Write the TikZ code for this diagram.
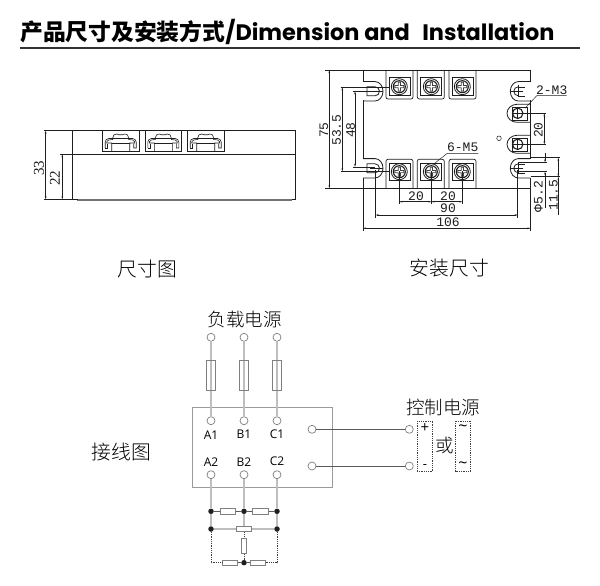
\documentclass[tikz,border=0pt]{standalone}
\usepackage{fontspec}
\usetikzlibrary{arrows.meta}
\setmainfont{Liberation Mono}
\newfontfamily\dimserif{Liberation Serif}
\newfontfamily\cjk{Noto Sans CJK SC}
\newfontfamily\cjklight{Noto Sans CJK SC Light}
\newfontfamily\titlelat{Poppins}
\newfontfamily\lab{Open Sans}
\definecolor{wire}{HTML}{BEBEBE}
\definecolor{ink}{HTML}{1E1E1E}
\definecolor{boxg}{HTML}{808080}
\tikzset{
  dimtxt/.style={font=\fontsize{13}{13}\selectfont,text=ink,inner sep=0pt},
  dimrot/.style={dimtxt,rotate=90},
  dimbig/.style={font=\dimserif\fontsize{15}{15}\selectfont,text=ink,inner sep=0pt,rotate=90},
  dimline/.style={ink,line width=0.45pt,{Stealth[length=3pt,width=1.6pt]}-{Stealth[length=3pt,width=1.6pt]}},
  ext/.style={ink,line width=0.45pt},
  body/.style={ink,line width=0.8pt},
  captxt/.style={font=\cjklight\fontsize{18.5}{18.5}\selectfont,text=black,inner sep=0pt},
  capbig/.style={font=\cjklight\fontsize{19.8}{19.8}\selectfont,text=black,inner sep=0pt},
  pinlab/.style={font=\lab\fontsize{12}{12}\selectfont,text=black,inner sep=0pt},
  term/.style={circle,draw=boxg,fill=white,line width=0.7pt,minimum size=8pt,inner sep=0pt},
  fuse/.style={rectangle,draw=boxg,line width=0.7pt,minimum width=9pt,minimum height=30pt,inner sep=0pt},
  resh/.style={rectangle,draw=boxg,fill=white,line width=0.9pt,minimum width=15.5pt,minimum height=5.5pt,inner sep=0pt},
  resv/.style={rectangle,draw=boxg,fill=white,line width=0.9pt,minimum width=5.5pt,minimum height=15.5pt,inner sep=0pt},
  dotn/.style={circle,fill=ink,minimum size=5.5pt,inner sep=0pt},
  wireg/.style={wire,line width=1.6pt},
  thin wire/.style={boxg!70!black,line width=0.8pt},
  dotw/.style={black!75,line width=0.8pt,densely dotted},
  screw/.pic={
    \draw[ink,line width=0.8pt] (0,0) circle (8pt);
    \draw[ink,line width=1.1pt] (0,0) circle (6pt);
    \fill[ink!85] (-5,-1.5) rectangle (5,1.5) (-1.5,-5) rectangle (1.5,5);
    \fill[white] (-4,-0.6) rectangle (4,0.6) (-0.6,-4) rectangle (0.6,4);
  },
  clip shape/.pic={
    \draw[ink,line width=0.6pt] (-9,10) -- (-9,2) -- (-14,2) .. controls (-14,1) and (-14,0) .. (-12,-1) -- (-8,-1.5) -- (-8,-3) .. controls (-8,-6) and (-6,-7) .. (-4,-7) -- (-2,-6.3) -- (2,-6.3) -- (4,-7) .. controls (6,-7) and (8,-6) .. (8,-3) -- (8,-1.5) -- (12,-1) .. controls (14,0) and (14,1) .. (14,2) -- (9,2) -- (9,10);
    \draw[ink,line width=0.6pt] (-15.5,7) -- (-15.5,1) .. controls (-15.5,-1) and (-14,-2) .. (-12,-2.5) -- (12,-2.5) .. controls (14,-2) and (15.5,-1) .. (15.5,1) -- (15.5,7) -- (13,7) -- (13,2.5);
    \draw[ink,line width=0.6pt] (-15.5,7) -- (-13,7) -- (-13,2.5);
    \draw[ink,line width=0.6pt] (-9,2.5) -- (9,2.5);
  },
  slotl/.pic={
    \draw[body] (-12,-9.7) -- (0,-9.7) arc[start angle=90,end angle=-90,x radius=8pt,y radius=9.7pt] -- (-12,9.7);
    \draw[body] (-8,-4.5) -- (0,-4.5) arc[start angle=90,end angle=-90,radius=4.5pt] -- (-8,4.5) -- cycle;
    \draw[ext] (-5,0) -- (8,0);
  },
  slotr/.pic={
    \draw[body] (12,-9.7) -- (0,-9.7) arc[start angle=90,end angle=270,x radius=8pt,y radius=9.7pt] -- (12,9.7);
    \draw[body] (0,-4.5) arc[start angle=90,end angle=270,radius=4.5pt];
    \draw[ext] (0,-4.5) -- (7,-4.5) (0,4.5) -- (7,4.5);
    \draw[ext] (5,0) -- (-8,0) (0,-6) -- (0,6);
  },
}
\begin{document}
\begin{tikzpicture}[x=1pt,y=-1pt]
\useasboundingbox (0,0) rectangle (600,586);
\fill[white] (0,0) rectangle (600,586);

% title
\node[anchor=west,inner sep=0pt,font=\cjk\bfseries\fontsize{22.8}{22.8}\selectfont] (title) at (20,32) {产品尺寸及安装方式{\titlelat\bfseries\fontsize{22.4}{22.4}\selectfont/Dimension and\hspace{0.35em} Installation}};
\draw[black!80,line width=2pt] (20,48.5) -- (580,48.5);

% side view
\draw[body] (72.7,130.7) rectangle (295.7,199.3);
\draw[body] (72.7,154.3) -- (295.7,154.3);
\fill[black!55] (77,198.6) rectangle (291.7,200.8);
\foreach \a/\b/\c in {102.3/139.3/120.7,145/181.7/163.3,187/224/205.7}{
  \draw[body] (\a,130.7) -- (\a,151) -- (\b,151) -- (\b,130.7);
  \pic at (\c,141) {clip shape};
}
\draw[ext] (44,130.7) -- (72.7,130.7) (44,199.3) -- (78,199.3) (60,154.3) -- (72.7,154.3);
\draw[dimline] (45.7,130.7) -- (45.7,199.3);
\draw[dimline] (62.3,154.3) -- (62.3,199.3);
\node[dimbig] (d33) at (39,168) {33};
\node[dimbig] (d22) at (55,178) {22};

% top view outline
\draw[body] (363,81.7) -- (363,70) -- (530.5,70) -- (530.5,81.7);
\draw[body] (363,100) -- (363,158.7);
\draw[body] (363,178) -- (363,188.3);
\draw[body] (530.5,100) -- (530.5,158.7);
\draw[body] (530.5,178) -- (530.5,188.3);
\draw[ink,line width=1pt] (363,188.3) -- (530.5,188.3);
\pic at (375,91.3) {slotl};
\pic at (375,168.3) {slotl};
\pic at (518.3,91.3) {slotr};
\pic at (518.3,168.3) {slotr};
\foreach \a/\c in {386/399.3,417.3/431.3,449/462.3}{
  \draw[ink,line width=0.7pt,rounded corners=2pt] (\a,70) -- (\a,99) -- (\a+27,99) -- (\a+27,70);
  \draw[ink,line width=0.6pt] (\a+3,77.3) rectangle (\a+24,95.7);
  \pic at (\c,86.7) {screw};
  \draw[ink,line width=0.7pt,rounded corners=2pt] (\a,188.3) -- (\a,159.3) -- (\a+27,159.3) -- (\a+27,188.3);
  \draw[ink,line width=0.6pt] (\a+3,180) -- (\a+3,163.3) -- (\a+24,163.3) -- (\a+24,180) -- cycle;
  \pic at (\c,171.7) {screw};
}
% M3 terminals
\foreach \y in {113.3,144.3}{
  \draw[body] (530.5,\y-9) -- (517,\y-9) arc[start angle=90,end angle=270,x radius=10pt,y radius=9pt] -- (530.5,\y+9);
  \draw[ink,line width=0.6pt] (512,\y-6.5) rectangle (527,\y+6.5);
  \draw[ink,line width=1.1pt,fill=white] (517.7,\y) circle (5.2pt);
  \draw[ink,line width=1.2pt] (513,\y) -- (522.4,\y) (517.7,\y-4.7) -- (517.7,\y+4.7);
}
\draw[ink,line width=0.5pt] (499,138.3) circle (2.3pt);

% dimensions, top view
\draw[ext] (325,70) -- (363,70) (325,188.3) -- (363,188.3);
\draw[dimline] (329.3,70) -- (329.3,188.3);
\node[dimrot] (d75) at (324,130) {75};
\draw[ext] (340.5,87.3) -- (390,87.3) (340.5,171.3) -- (390,171.3);
\draw[dimline] (342.3,87.3) -- (342.3,171.3);
\node[dimrot] (d535) at (336.7,130) {53.5};
\draw[ext] (353,91.5) -- (375,91.5) (353,166.8) -- (375,166.8);
\draw[dimline] (355,91.5) -- (355,166.8);
\node[dimrot] (d48) at (350.5,130) {48};

\draw[ext] (399.3,171) -- (399.3,204) (431.3,171) -- (431.3,204) (462.3,171) -- (462.3,204);
\draw[dimline] (399.3,201.7) -- (431.3,201.7);
\draw[dimline] (431.3,201.7) -- (462.3,201.7);
\node[dimtxt] (d20a) at (416,196) {20};
\node[dimtxt] (d20b) at (448,196) {20};
\draw[ext] (375.7,170) -- (375.7,217.5) (517.7,170) -- (517.7,217.5);
\draw[dimline] (375.7,215) -- (517.7,215);
\node[dimtxt] (d90) at (448,208.5) {90};
\draw[ext] (363,188.3) -- (363,230.5) (530.5,188.3) -- (530.5,230.5);
\draw[dimline] (363,228.3) -- (530.5,228.3);
\node[dimtxt] (d106) at (448,222) {106};

\node[dimtxt] (m5) at (462.7,147.5) {6-M5};
\draw[ext] (435,163) -- (447.3,153.3) -- (478.3,153.3);
\node[dimtxt] (m3) at (551.7,90) {2-M3};
\draw[ext] (525,108.3) -- (536.7,95.7) -- (566.7,95.7);

\draw[ext] (518,113.3) -- (546,113.3) (518,144.3) -- (546,144.3);
\draw[dimline] (544.3,113.3) -- (544.3,144.3);
\node[dimrot] (d20c) at (538.3,130) {20};

\draw[ext] (518,162.3) -- (547,162.3) (518,171.7) -- (547,171.7);
\draw[ext,-{Stealth[length=3pt,width=1.6pt]}] (545,153) -- (545,162.3);
\draw[ext,-{Stealth[length=3pt,width=1.6pt]}] (545,208) -- (545,171.7);
\node[dimrot] (d52) at (538.3,196.7) {Φ5.2};
\draw[ext] (530.5,157.7) -- (560,157.7) (530.5,176.7) -- (560,176.7);
\draw[ext,-{Stealth[length=3pt,width=1.6pt]}] (558.3,215) -- (558.3,176.7);
\draw[dimline] (558.3,157.7) -- (558.3,176.7);
\node[dimrot] (d115) at (553.3,195) {11.5};

% captions
\node[capbig] (c1) at (147.5,268.5) {尺寸图};
\node[capbig] (c2) at (449.5,268.5) {安装尺寸};
\node[captxt] (c3) at (244.5,319) {负载电源};
\node[captxt] (c4) at (443,407) {控制电源};
\node[capbig] (c5) at (121.5,452) {接线图};
\node[captxt] (c6) at (444.5,445) {或};

% circuit
\draw[boxg!80,line width=1.1pt] (192.7,407.7) rectangle (332.7,487.3);
\foreach \n/\x/\p in {a/211/A,b/244/B,c/277/C}{
  \node[term] (t\n) at (\x,337.3) {};
  \node[term] (u\n) at (\x,420.7) {};
  \node[term] (l\n) at (\x,474.7) {};
  \draw[wireg] (t\n) -- (u\n);
  \node[fuse] (f\n) at (\x,375) {};
  \node[pinlab] (pa\n) at (\x,434.7) {\p1};
  \node[pinlab] (pb\n) at (\x,461.7) {\p2};
  \node[dotn] (q\n) at (\x,511.3) {};
  \draw[wireg] (l\n) -- (q\n);
}
\node[term] (r1) at (312,429.3) {};
\node[term] (r2) at (312,466) {};
\node[term] (s1) at (409.3,429.3) {};
\node[term] (s2) at (409.3,466) {};
\draw[thin wire] (r1) -- (s1);
\draw[thin wire] (r2) -- (s2);

\draw[dotw] (417.3,421) rectangle (432.7,471.7);
\draw[dotw] (455.7,421) rectangle (470.3,471.7);
\node[font=\lab\fontsize{15}{15}\selectfont,inner sep=0pt] (plus) at (425,428.5) {+};
\node[font=\lab\fontsize{13}{13}\selectfont,inner sep=0pt] (minus) at (425,467) {-};
\node[font=\lab\fontsize{16}{16}\selectfont,inner sep=0pt] (til1) at (463,428) {\char"007E};
\node[font=\lab\fontsize{16}{16}\selectfont,inner sep=0pt] (til2) at (463,465) {\char"007E};

% resistor network
\node[dotn] (p1) at (211,529) {};
\node[dotn] (p2) at (277,529) {};
\node[dotn] (p3) at (244,562.7) {};
\draw[wireg] (qa) -- (p1);
\draw[wireg] (qc) -- (p2);
\draw[wireg] (p1) -- (p2);
\draw[wireg] (qb) -- (244,529);
\node[resh] (ra) at (228,511.3) {};
\node[resh] (rb) at (260.5,511.3) {};
\node[resh] (rc) at (244,529) {};
\node[resv] (rd) at (244,545.8) {};
\node[resh] (re) at (230,562.7) {};
\node[resh] (rf) at (257.7,562.7) {};
\draw[thin wire] (qa) -- (ra);
\draw[thin wire] (ra) -- (qb);
\draw[thin wire] (qb) -- (rb);
\draw[thin wire] (rb) -- (qc);
\draw[dotw] (rc) -- (rd);
\draw[dotw] (rd) -- (p3);
\draw[thin wire] (p3) -- (re);
\draw[thin wire] (p3) -- (rf);
\draw[dotw] (p1) |- (re);
\draw[dotw] (p2) |- (rf);
\end{tikzpicture}
\end{document}
